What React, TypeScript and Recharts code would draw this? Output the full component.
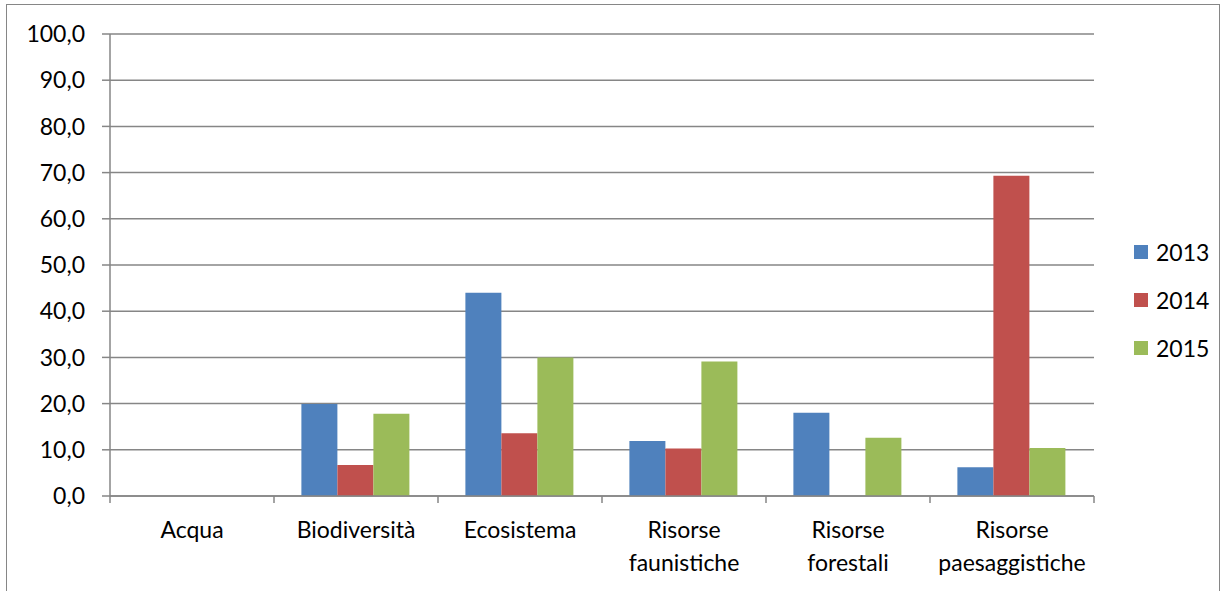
import React from "react";
import { BarChart, Bar, XAxis, YAxis, CartesianGrid } from "recharts";

const categories = [
  "Acqua",
  "Biodiversità",
  "Ecosistema",
  "Risorse faunistiche",
  "Risorse forestali",
  "Risorse paesaggistiche",
];
const values2013 = [0, 19.9, 44.0, 11.9, 18.0, 6.2];
const values2014 = [0, 6.7, 13.6, 10.3, 0, 69.3];
const values2015 = [0, 17.8, 30.0, 29.1, 12.6, 10.4];
const yTicks = [0, 10, 20, 30, 40, 50, 60, 70, 80, 90, 100];
const seriesNames = ["2013", "2014", "2015"];
const colors = ["#4F81BD", "#C0504D", "#9BBB59"];

const data = categories.map((c, i) => ({
  name: c,
  "2013": values2013[i],
  "2014": values2014[i],
  "2015": values2015[i],
}));

const W = 1229;
const H = 591;
const margin = { top: 34, right: 135, left: 0, bottom: 0 };
const yAxisWidth = 110;
const FONT = "Lato, 'Open Sans', sans-serif";
const GRID = "#868686";

const plotWidth = W - margin.left - margin.right - yAxisWidth;
const band = plotWidth / categories.length;

const XTick = (props: any) => {
  const { x, y, payload, index } = props;
  const words: string[] = String(payload.value).split(" ");
  return (
    <g>
      <line x1={x - band / 2} x2={x - band / 2} y1={y} y2={y + 7} stroke={GRID} strokeWidth={1.5} />
      {index === categories.length - 1 && (
        <line x1={x + band / 2} x2={x + band / 2} y1={y} y2={y + 7} stroke={GRID} strokeWidth={1.5} />
      )}
      {words.map((w, i) => (
        <text
          key={i}
          x={x}
          y={y + 42 + i * 33}
          textAnchor="middle"
          fontSize={23}
          fontFamily={FONT}
          fill="#000"
        >
          {w}
        </text>
      ))}
    </g>
  );
};

export default function App() {
  return (
    <div
      style={{
        position: "absolute",
        left: 0,
        top: 0,
        width: W,
        height: H,
        overflow: "hidden",
        background: "#fff",
      }}
    >
      <div
        style={{
          position: "absolute",
          left: 6,
          top: 4,
          width: 1214,
          height: 620,
          border: "1.5px solid #868686",
          boxSizing: "border-box",
        }}
      />
      <div style={{ position: "absolute", left: 0, top: 0 }}>
        <BarChart
          width={W}
          height={H}
          data={data}
          margin={margin}
          barCategoryGap="16.7%"
          barGap={0}
        >
          <CartesianGrid vertical={false} stroke={GRID} strokeWidth={1.5} />
          <XAxis
            dataKey="name"
            interval={0}
            height={H - 496}
            tickSize={0}
            tickMargin={0}
            tick={<XTick />}
            axisLine={{ stroke: GRID, strokeWidth: 1.5 }}
            tickLine={false}
          />
          <YAxis
            width={yAxisWidth}
            domain={[0, 100]}
            ticks={yTicks}
            interval={0}
            tickFormatter={(v: number) => v.toFixed(1).replace(".", ",")}
            tickSize={8}
            tickMargin={17}
            tick={{ fontSize: 23, fontFamily: FONT, fill: "#000" }}
            axisLine={{ stroke: GRID, strokeWidth: 1.5 }}
            tickLine={{ stroke: GRID, strokeWidth: 1.5 }}
          />
          {seriesNames.map((s, i) => (
            <Bar key={s} dataKey={s} fill={colors[i]} isAnimationActive={false} />
          ))}
        </BarChart>
      </div>
      <div style={{ position: "absolute", left: 1134, top: 228 }}>
        {seriesNames.map((s, i) => (
          <div
            key={s}
            style={{
              display: "flex",
              alignItems: "center",
              height: 48,
              fontFamily: FONT,
              fontSize: 23,
              color: "#000",
            }}
          >
            <span
              style={{
                display: "inline-block",
                width: 14,
                height: 14,
                background: colors[i],
                marginRight: 8,
              }}
            />
            <span>{s}</span>
          </div>
        ))}
      </div>
    </div>
  );
}
